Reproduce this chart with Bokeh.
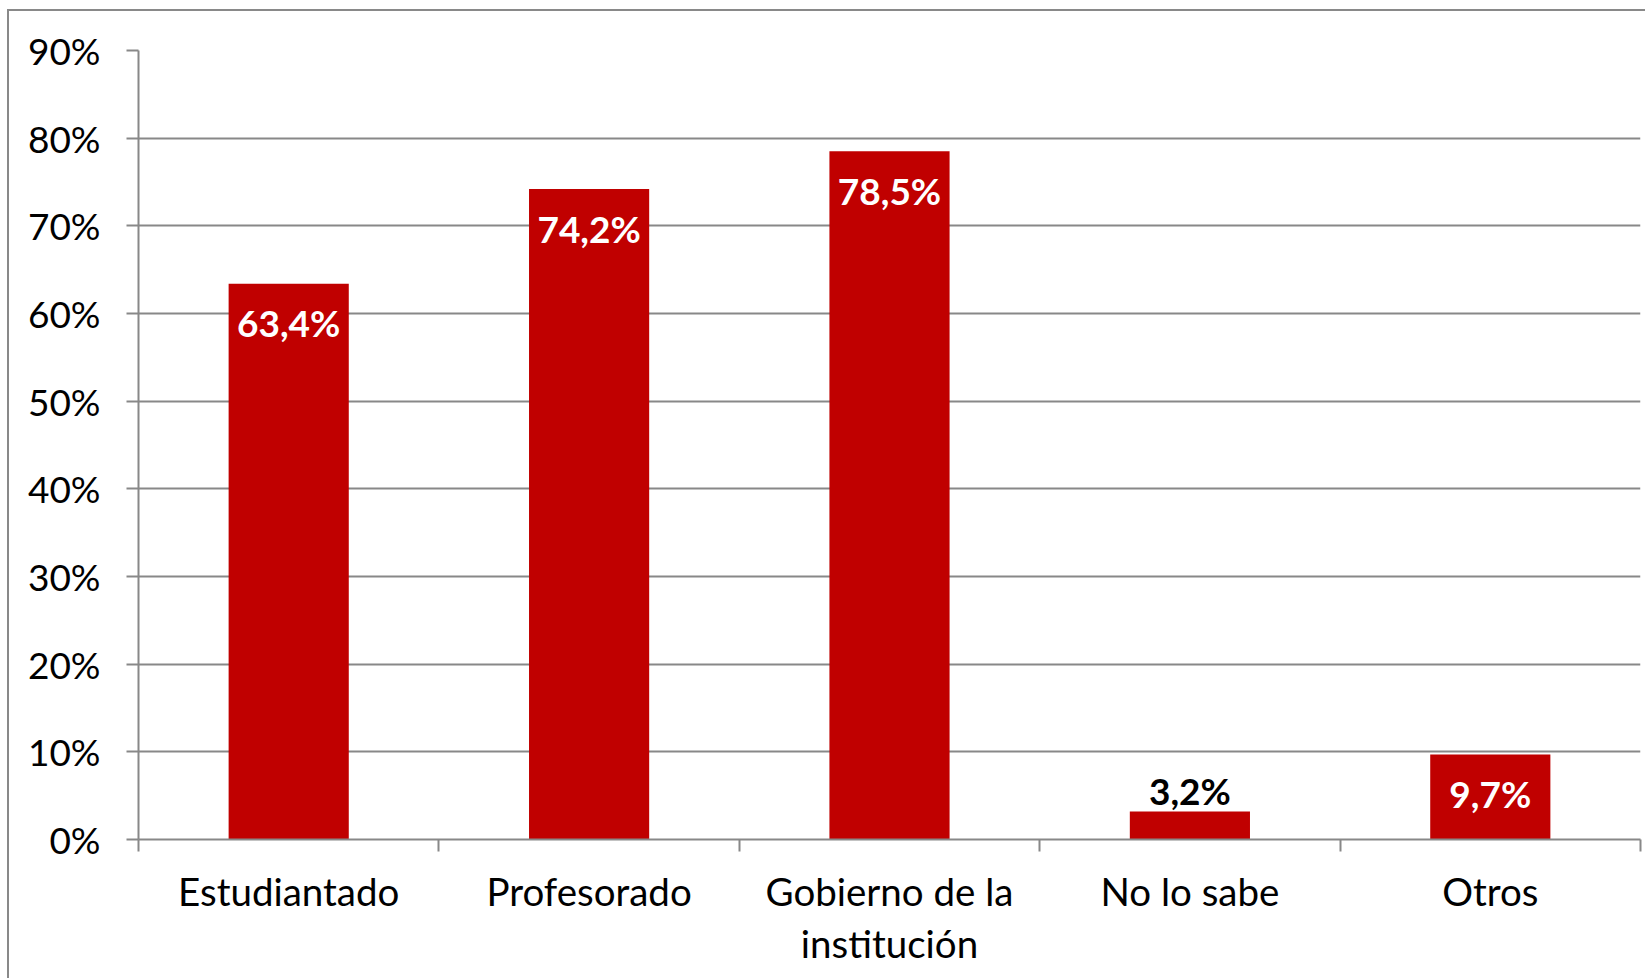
from bokeh.plotting import figure
from bokeh.models import Range1d, FixedTicker, PrintfTickFormatter, ColumnDataSource
from bokeh.core.properties import value
from bokeh.embed import file_html
from bokeh.resources import INLINE

categories = ["Estudiantado", "Profesorado", "Gobierno de la\ninstitución", "No lo sabe", "Otros"]
values = [63.4, 74.2, 78.5, 3.2, 9.7]
labels = ["63,4%", "74,2%", "78,5%", "3,2%", "9,7%"]
y_ticks = [0, 10, 20, 30, 40, 50, 60, 70, 80, 90]

FONT = "Lato"
GREY = "#888888"
RED = "#C00000"

n = len(categories)
xs = [i + 0.5 for i in range(n)]
inside = [v >= 5 for v in values]

p = figure(width=1638, height=969, output_backend="svg", toolbar_location=None,
           x_range=Range1d(0, n), y_range=Range1d(0, y_ticks[-1]),
           min_border_left=129, min_border_top=39, min_border_right=7, min_border_bottom=141)
p.styles = {"margin-left": "7px", "margin-top": "9px",
            "border-left": "2px solid #898989", "border-top": "2px solid #898989"}
p.outline_line_color = None
p.background_fill_color = "white"
p.border_fill_color = "white"

p.vbar(x=xs, top=values, width=0.4, color=RED, line_color=None)

src = ColumnDataSource(dict(
    x=xs, y=values, t=labels,
    c=["white" if i else "black" for i in inside],
    off=[39 if i else -21 for i in inside],
))
p.text(x="x", y="y", text="t", source=src, text_color="c", y_offset="off",
       text_align="center", text_baseline="middle",
       text_font=value(FONT), text_font_style="bold", text_font_size="37px")

# x axis
xa = p.xaxis[0]
xa.ticker = FixedTicker(ticks=xs, minor_ticks=list(range(n + 1)))
xa.major_label_overrides = {x: c for x, c in zip(xs, categories)}
xa.major_tick_out = 0
xa.major_tick_in = 0
xa.minor_tick_out = 12
xa.minor_tick_in = 0
xa.minor_tick_line_color = GREY
xa.minor_tick_line_width = 2
xa.axis_line_color = GREY
xa.axis_line_width = 2
xa.major_label_standoff = 16
xa.major_label_text_font = FONT
xa.major_label_text_font_size = "38.5px"
xa.major_label_text_color = "black"
xa.major_label_text_line_height = 1.15

# y axis
ya = p.yaxis[0]
ya.ticker = FixedTicker(ticks=y_ticks, minor_ticks=[])
ya.formatter = PrintfTickFormatter(format="%d%%")
ya.major_tick_out = 12
ya.major_tick_in = 0
ya.major_tick_line_color = GREY
ya.major_tick_line_width = 2
ya.axis_line_color = GREY
ya.axis_line_width = 2
ya.major_label_standoff = 26
ya.major_label_text_font = FONT
ya.major_label_text_font_size = "37px"
ya.major_label_text_color = "black"

p.xgrid.grid_line_color = None
p.ygrid.ticker = FixedTicker(ticks=y_ticks)
p.ygrid.grid_line_color = GREY
p.ygrid.grid_line_width = 2

open("out.html", "w").write(file_html(p, INLINE))
